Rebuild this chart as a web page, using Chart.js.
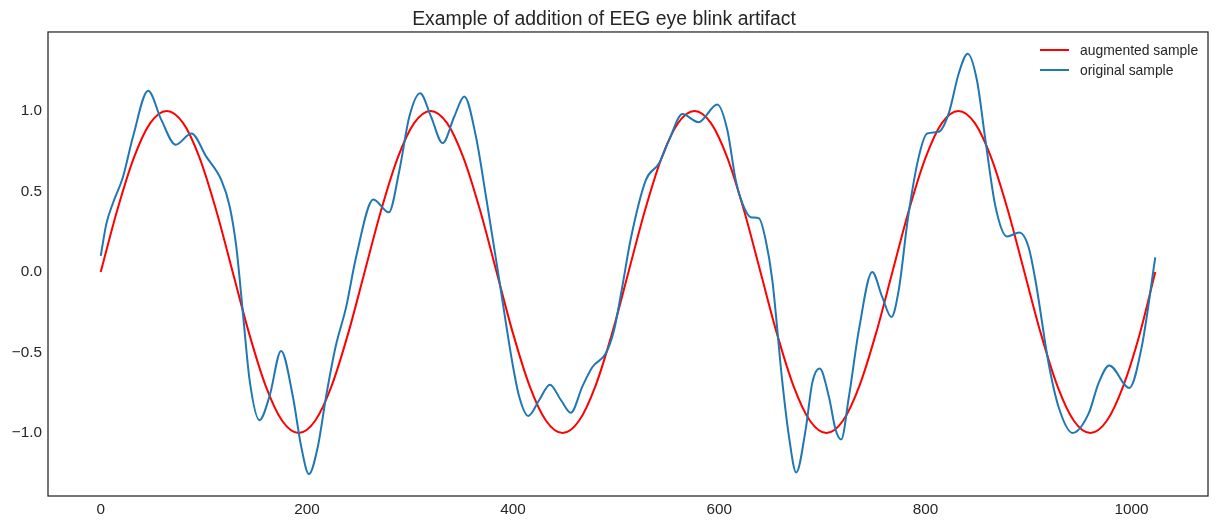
<!DOCTYPE html>
<html>
<head>
<meta charset="utf-8">
<script src="https://cdn.jsdelivr.net/npm/chart.js@4"></script>
<style>
  html, body { margin: 0; padding: 0; background: #ffffff; }
  #wrap { position: relative; width: 1220px; height: 525px; }
</style>
</head>
<body>
<div id="wrap"><canvas id="c" width="1220" height="525"></canvas></div>
<script>
// ---- data ----
const chartTitle = "Example of addition of EEG eye blink artifact";
const seriesLabels = ["augmented sample", "original sample"];

const augmentedX = [0,16,32,48,64,80,96,112,128,144,160,176,192,208,224,240,
  256,272,288,304,320,336,352,368,384,400,416,432,448,464,480,496,
  512,528,544,560,576,592,608,624,640,656,672,688,704,720,736,752,
  768,784,800,816,832,848,864,880,896,912,928,944,960,976,992,1008,1023];
const augmentedY = [0,0.383,0.707,0.924,1,0.924,0.707,0.383,0,-0.383,-0.707,-0.924,-1,-0.924,-0.707,-0.383,
  0,0.383,0.707,0.924,1,0.924,0.707,0.383,0,-0.383,-0.707,-0.924,-1,-0.924,-0.707,-0.383,
  0,0.383,0.707,0.924,1,0.924,0.707,0.383,0,-0.383,-0.707,-0.924,-1,-0.924,-0.707,-0.383,
  0,0.383,0.707,0.924,1,0.924,0.707,0.383,0,-0.383,-0.707,-0.924,-1,-0.924,-0.707,-0.383,0];

const originalX = [0,5.5,12,21.6,31.3,46,58.8,72.7,88,102.4,117,125,131.5,138,144.4,154,163.8,175,186.3,194.5,202,210.6,218.7,228,238,247.8,
  264.5,279.4,289.7,299.4,309.8,320.4,331.7,343,352.7,364,373.7,386.6,399.5,406,414.7,425.4,435.7,446.4,456,467.3,477,490,498,506,514,
  528.8,541.7,551.4,564.3,579.8,598.2,607.9,616,622.4,630.5,638.6,645,651.5,661,667.6,674.7,683.8,690.2,697.4,706.4,712.9,718.3,725.8,735.5,748.4,758,767,774.2,783.2,
  793.6,801.7,813,822.7,832.4,841,850,858.2,868,879.2,891.2,900,906.7,919.6,929.3,942.8,958.3,968,978.4,997.8,1010,1023];
const originalY = [0.10,0.30,0.43,0.59,0.84,1.125,0.944,0.79,0.86,0.716,0.57,0.41,0.157,-0.26,-0.67,-0.92,-0.77,-0.49,-0.77,-1.085,-1.255,-1.085,-0.77,-0.46,-0.22,0.095,
  0.45,0.37,0.63,0.965,1.11,0.965,0.80,0.965,1.09,0.84,0.47,-0.05,-0.57,-0.775,-0.894,-0.795,-0.70,-0.795,-0.874,-0.71,-0.59,-0.505,-0.36,-0.09,0.2,
  0.57,0.675,0.82,0.98,0.93,1.04,0.88,0.57,0.427,0.34,0.333,0.20,-0.05,-0.67,-1.02,-1.245,-0.98,-0.69,-0.60,-0.775,-0.98,-1.04,-0.775,-0.36,0.0,-0.153,-0.28,-0.11,0.34,
  0.716,0.86,0.87,0.986,1.234,1.355,1.19,0.82,0.405,0.22,0.245,0.157,-0.05,-0.57,-0.84,-1.0,-0.88,-0.69,-0.58,-0.72,-0.46,0.09];

const xTickValues = [0, 200, 400, 600, 800, 1000];
const yTickValues = [-1.0, -0.5, 0.0, 0.5, 1.0];

// ---- chart ----
const toPoints = (xs, ys) => xs.map((x, i) => ({ x: x, y: ys[i] }));
const inkColor = '#262626';
const fontFamily = '"Liberation Sans", Arial, sans-serif';

const framePlugin = {
  id: 'frame',
  afterDraw(chart) {
    const { ctx, chartArea: a } = chart;
    ctx.save();
    ctx.strokeStyle = inkColor;
    ctx.lineWidth = 1.25;
    ctx.strokeRect(a.left, a.top, a.right - a.left, a.bottom - a.top);
    // legend (upper right, inside axes)
    ctx.font = '13.9px ' + fontFamily;
    ctx.textBaseline = 'middle';
    ctx.textAlign = 'left';
    chart.data.datasets.forEach((ds, i) => {
      const y = 50 + i * 20;
      ctx.strokeStyle = ds.borderColor;
      ctx.lineWidth = 2;
      ctx.beginPath();
      ctx.moveTo(1040, y);
      ctx.lineTo(1069, y);
      ctx.stroke();
      ctx.fillStyle = inkColor;
      ctx.fillText(ds.label, 1080, y + 1);
    });
    ctx.restore();
  }
};

const fmtY = v => (v < 0 ? '\u2212' : '') + Math.abs(v).toFixed(1);

new Chart(document.getElementById('c'), {
  type: 'line',
  data: {
    datasets: [
      {
        label: seriesLabels[0],
        data: toPoints(augmentedX, augmentedY),
        borderColor: '#ff0000',
        borderWidth: 2,
        pointRadius: 0,
        cubicInterpolationMode: 'monotone',
        fill: false,
        order: 1
      },
      {
        label: seriesLabels[1],
        data: toPoints(originalX, originalY),
        borderColor: '#1f77b4',
        borderWidth: 2,
        pointRadius: 0,
        cubicInterpolationMode: 'monotone',
        fill: false,
        order: 0
      }
    ]
  },
  options: {
    responsive: false,
    animation: false,
    devicePixelRatio: 1,
    layout: { padding: { left: 0, right: 12, top: 0, bottom: 0 } },
    plugins: {
      legend: { display: false },
      tooltip: { enabled: false },
      title: {
        display: true,
        text: chartTitle,
        color: inkColor,
        font: { family: fontFamily, size: 19.4, weight: 'normal', lineHeight: 1.2 },
        padding: { top: 8, bottom: 0.7 }
      }
    },
    scales: {
      x: {
        type: 'linear',
        min: -51.15,
        max: 1074.15,
        grid: { display: false, drawTicks: false },
        border: { display: false },
        afterBuildTicks: s => { s.ticks = xTickValues.map(v => ({ value: v })); },
        afterFit: s => { s.height = 29; },
        ticks: {
          color: inkColor,
          padding: 5,
          maxRotation: 0,
          font: { family: fontFamily, size: 15.3 },
          callback: v => String(v)
        }
      },
      y: {
        type: 'linear',
        min: -1.391,
        max: 1.49,
        grid: { display: false, drawTicks: false },
        border: { display: false },
        afterBuildTicks: s => { s.ticks = yTickValues.map(v => ({ value: v })); },
        afterFit: s => { s.width = 48; },
        ticks: {
          color: inkColor,
          padding: 6,
          font: { family: fontFamily, size: 15.3 },
          callback: v => fmtY(v)
        }
      }
    }
  },
  plugins: [framePlugin]
});
</script>
</body>
</html>
